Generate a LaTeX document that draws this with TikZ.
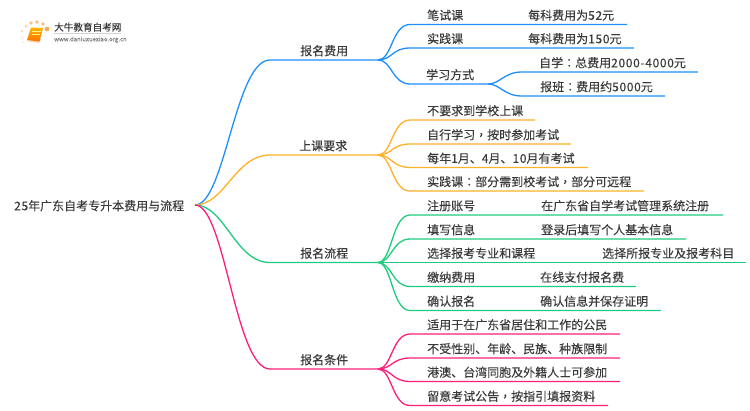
\documentclass[tikz,border=0pt]{standalone}
\usepackage{fontspec}
\setmainfont[FakeBold=0.12]{Noto Sans CJK SC}
\newfontfamily\digitfont[LetterSpace=5.5,FakeBold=0.12]{Noto Sans CJK SC}
\newfontfamily\puncfont[FakeBold=0.12]{Noto Sans CJK TC}
\newcommand{\dg}[1]{{\digitfont #1}}
\newcommand{\pn}[1]{{\puncfont #1}}
\definecolor{feeblue}{HTML}{1E8FFF}
\definecolor{classorange}{HTML}{FFB12A}
\definecolor{stepgreen}{HTML}{1FCB7E}
\definecolor{condpink}{HTML}{FF1F7A}
\definecolor{inkgray}{HTML}{3A3A3A}
\tikzset{
	lbl/.style = {anchor=base west, inner sep=0pt, yshift=-.3pt, text=inkgray, font=\fontsize{12}{12}\selectfont},
	fee/.style = {draw=feeblue, line width=1.3pt},
	class/.style = {draw=classorange, line width=1.3pt},
	stepline/.style = {draw=stepgreen, line width=1.3pt},
	cond/.style = {draw=condpink, line width=1.3pt},
	dot/.style = {fill=#1, draw=none}
}
\begin{document}
\begin{tikzpicture}[x=1pt,y=-1pt]

	\useasboundingbox (0,0) rectangle (750,410);

	% logo
	\fill[dot=orange!70] (47,29) circle (2.3);
	\fill[dot=orange!55] (43,24) circle (1.9);
	\fill[dot=orange!55] (37,22) circle (1.9);
	\fill[dot=orange!50] (31,23) circle (1.8);
	\fill[dot=orange!40] (26,26) circle (1.5);
	\fill[dot=orange!30] (22,31) circle (1.3);
	\fill[dot=orange!20] (22,37) circle (1.2);
	\fill[dot=orange!15] (23,42) circle (1.1);
	\fill[orange!35] (27,41) -- (39,43) -- (41,39) -- (30,38) -- cycle;
	\shade[top color=orange!60!yellow, bottom color=orange!90!red] (31,27.5) -- (43,28) -- (39.5,41.5) -- (27,40) -- cycle;
	\draw[yellow!50, line width=.6pt] (32,31.5) -- (40.5,31.5);
	\draw[yellow!50, line width=.6pt] (31.5,34.5) -- (40,34.5);
	\node[lbl, text=inkgray, font=\fontsize{9.6}{10}\selectfont] (logoN) at (54,30.5) {大牛教育自考网};
	\draw[gray!35, line width=.4pt] (54,33.5) -- (121,33.5);
	\node[lbl, text=gray, font=\fontsize{6}{6}\selectfont] (logoU) at (54,41) {www.daniuxuexiao.org.cn};

	% root
	\node[lbl] (rootN) at (14,210) {\dg{25}年广东自考专升本费用与流程};
	\coordinate (root) at (195,205);

	% fee
	\coordinate (feeL) at (270,60);
	\coordinate (feeR) at (378,60);
	\coordinate (penL) at (410,24.5);
	\coordinate (penR) at (627,24.5);
	\coordinate (pracL) at (410,48);
	\coordinate (pracR) at (634,48);
	\coordinate (wayL) at (410,84);
	\coordinate (wayR) at (488,84);
	\coordinate (selfL) at (522,72);
	\coordinate (selfR) at (698,72);
	\coordinate (tutorL) at (522,96);
	\coordinate (tutorR) at (665,96);
	\draw[fee] (root) .. controls +(30,0) and +(-35,0) .. (feeL) -- (feeR);
	\draw[fee] (feeR) .. controls +(14,0) and +(-18,0) .. (penL) -- (penR);
	\draw[fee] (feeR) .. controls +(14,0) and +(-18,0) .. (pracL) -- (pracR);
	\draw[fee] (feeR) .. controls +(14,0) and +(-18,0) .. (wayL) -- (wayR);
	\draw[fee] (wayR) .. controls +(12,0) and +(-18,0) .. (selfL) -- (selfR);
	\draw[fee] (wayR) .. controls +(12,0) and +(-18,0) .. (tutorL) -- (tutorR);
	\node[lbl] (feeN) at (300,55) {报名费用};
	\node[lbl] (penN) at (427,19.5) {笔试课};
	\node[lbl] (penV) at (528,19.5) {每科费用为\dg{52}元};
	\node[lbl] (pracN) at (427,43) {实践课};
	\node[lbl] (pracV) at (528,43) {每科费用为\dg{150}元};
	\node[lbl] (wayN) at (426,79) {学习方式};
	\node[lbl] (selfN) at (539,67) {自学\pn{：}总费用\dg{2000-4000}元};
	\node[lbl] (tutorN) at (540,91) {报班\pn{：}费用约\dg{5000}元};

	% class
	\coordinate (classL) at (270,155);
	\coordinate (classR) at (378,155);
	\coordinate (noneL) at (410,120);
	\coordinate (noneR) at (535,120);
	\coordinate (studyL) at (410,144);
	\coordinate (studyR) at (571,144);
	\coordinate (examL) at (410,167.5);
	\coordinate (examR) at (588,167.5);
	\coordinate (remoteL) at (410,191);
	\coordinate (remoteR) at (644,191);
	\draw[class] (root) .. controls +(30,0) and +(-35,0) .. (classL) -- (classR);
	\draw[class] (classR) .. controls +(14,0) and +(-18,0) .. (noneL) -- (noneR);
	\draw[class] (classR) .. controls +(14,0) and +(-18,0) .. (studyL) -- (studyR);
	\draw[class] (classR) .. controls +(14,0) and +(-18,0) .. (examL) -- (examR);
	\draw[class] (classR) .. controls +(14,0) and +(-18,0) .. (remoteL) -- (remoteR);
	\node[lbl] (classN) at (299,150) {上课要求};
	\node[lbl] (noneN) at (427,115) {不要求到学校上课};
	\node[lbl] (studyN) at (427,139) {自行学习\pn{，}按时参加考试};
	\node[lbl] (examN) at (427,162.5) {每年\dg{1}月、\dg{4}月、\dg{10}月有考试};
	\node[lbl] (remoteN) at (427,186) {实践课\pn{：}部分需到校考试\pn{，}部分可远程};

	% steps
	\coordinate (stepsL) at (270,262.5);
	\coordinate (stepsR) at (378,262.5);
	\coordinate (acctL) at (410,215);
	\coordinate (acctR) at (723,215);
	\coordinate (infoL) at (410,239);
	\coordinate (infoR) at (686,239);
	\coordinate (majorL) at (410,262.5);
	\coordinate (majorR) at (746,262.5);
	\coordinate (payL) at (410,286.5);
	\coordinate (payR) at (636,286.5);
	\coordinate (okL) at (410,310.5);
	\coordinate (okR) at (661,310.5);
	\draw[stepline] (root) .. controls +(30,0) and +(-35,0) .. (stepsL) -- (stepsR);
	\draw[stepline] (stepsR) .. controls +(14,0) and +(-18,0) .. (acctL) -- (acctR);
	\draw[stepline] (stepsR) .. controls +(14,0) and +(-18,0) .. (infoL) -- (infoR);
	\draw[stepline] (stepsR) -- (majorL) -- (majorR);
	\draw[stepline] (stepsR) .. controls +(14,0) and +(-18,0) .. (payL) -- (payR);
	\draw[stepline] (stepsR) .. controls +(14,0) and +(-18,0) .. (okL) -- (okR);
	\node[lbl] (stepsN) at (300,257.5) {报名流程};
	\node[lbl] (acctN) at (427,210) {注册账号};
	\node[lbl] (acctV) at (541,210) {在广东省自学考试管理系统注册};
	\node[lbl] (infoN) at (427,234) {填写信息};
	\node[lbl] (infoV) at (541,234) {登录后填写个人基本信息};
	\node[lbl] (majorN) at (427,257.5) {选择报考专业和课程};
	\node[lbl] (majorV) at (602,257.5) {选择所报专业及报考科目};
	\node[lbl] (payN) at (427,281.5) {缴纳费用};
	\node[lbl] (payV) at (540,281.5) {在线支付报名费};
	\node[lbl] (okN) at (427,305.5) {确认报名};
	\node[lbl] (okV) at (540,305.5) {确认信息并保存证明};

	% conditions
	\coordinate (condL) at (270,369);
	\coordinate (condR) at (378,369);
	\coordinate (citizenL) at (410,334);
	\coordinate (citizenR) at (620,334);
	\coordinate (anyL) at (410,358);
	\coordinate (anyR) at (620,358);
	\coordinate (hkL) at (410,381.5);
	\coordinate (hkR) at (620,381.5);
	\coordinate (noticeL) at (410,405.5);
	\coordinate (noticeR) at (608,405.5);
	\draw[cond] (root) .. controls +(30,0) and +(-35,0) .. (condL) -- (condR);
	\draw[cond] (condR) .. controls +(14,0) and +(-18,0) .. (citizenL) -- (citizenR);
	\draw[cond] (condR) .. controls +(14,0) and +(-18,0) .. (anyL) -- (anyR);
	\draw[cond] (condR) .. controls +(14,0) and +(-18,0) .. (hkL) -- (hkR);
	\draw[cond] (condR) .. controls +(14,0) and +(-18,0) .. (noticeL) -- (noticeR);
	\node[lbl] (condN) at (300,364) {报名条件};
	\node[lbl] (citizenN) at (427,329) {适用于在广东省居住和工作的公民};
	\node[lbl] (anyN) at (427,353) {不受性别、年龄、民族、种族限制};
	\node[lbl] (hkN) at (427,376.5) {港澳、台湾同胞及外籍人士可参加};
	\node[lbl] (noticeN) at (427,400.5) {留意考试公告\pn{，}按指引填报资料};

\end{tikzpicture}
\end{document}
